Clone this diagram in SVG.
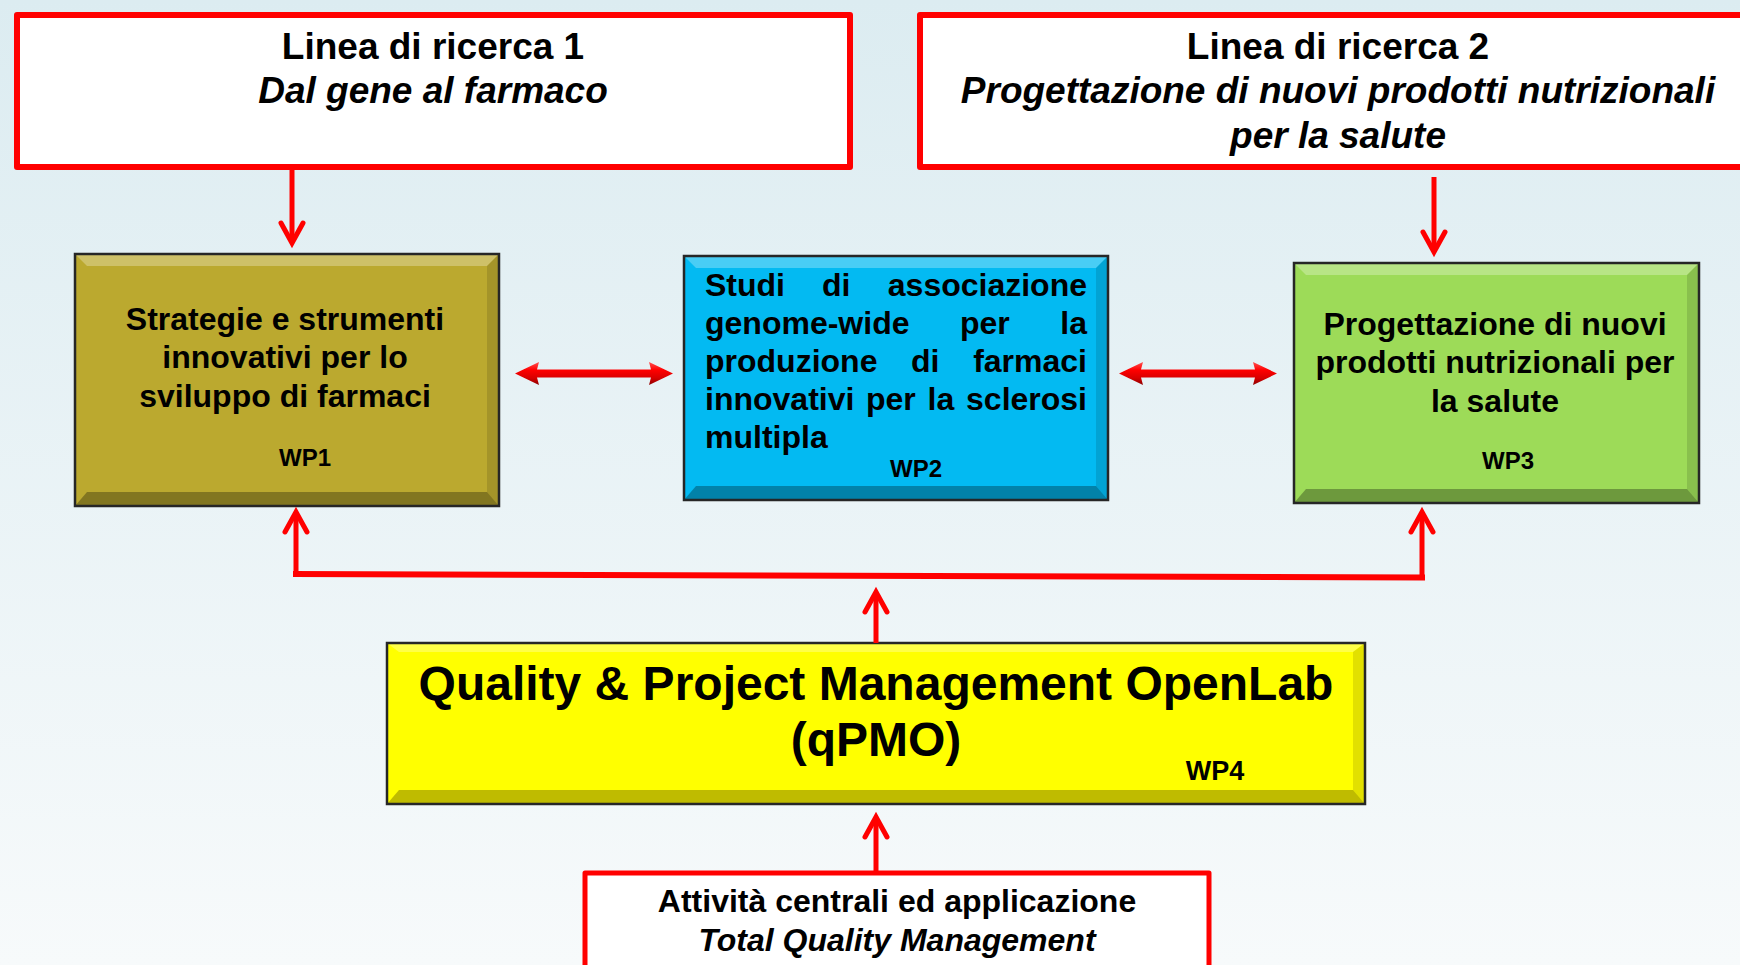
<svg xmlns="http://www.w3.org/2000/svg" width="1740" height="965" viewBox="0 0 1740 965">
<defs>
<linearGradient id="bg" x1="0" y1="0" x2="0" y2="1">
<stop offset="0" stop-color="#dcecf1"/>
<stop offset="1" stop-color="#f7fafb"/>
</linearGradient>
<linearGradient id="dbl" x1="0" y1="0" x2="0" y2="1">
<stop offset="0" stop-color="#ff5050"/>
<stop offset="0.35" stop-color="#ff0000"/>
<stop offset="0.7" stop-color="#d80000"/>
<stop offset="1" stop-color="#8a0000"/>
</linearGradient>
<marker id="arr" markerUnits="userSpaceOnUse" viewBox="-26 -16 36 32" markerWidth="36" markerHeight="32" refX="0" refY="0" orient="auto" overflow="visible">
<path d="M-20,-11 L0,0 L-20,11" fill="none" stroke="#ff0000" stroke-width="5" stroke-linejoin="miter" stroke-linecap="round"/>
</marker>
<path id="dblarrow" d="M0,0 L24,-11.5 L22,-4 L136,-4 L134,-11.5 L158,0 L134,11.5 L136,4 L22,4 L24,11.5 Z"/>
</defs>
<style>
.t{font-family:"Liberation Sans",Arial,sans-serif;font-weight:bold;fill:#000}
.i{font-style:italic}
.c{text-anchor:middle}
.e{text-anchor:end}
.redbox{fill:#ffffff;stroke:#ff0000;stroke-width:6;stroke-linejoin:round}
.frame{fill:none;stroke:#262626;stroke-width:2.5}
.conn{stroke:#ff0000;fill:none;stroke-width:5}
.hi{fill:#ffffff;opacity:0.28}
.lo{fill:#000000;opacity:0.3}
.sd{fill:#000000;opacity:0.12}
</style>
<rect x="0" y="0" width="1740" height="965" fill="url(#bg)"/>

<g id="linea1">
<rect class="redbox" x="17" y="15" width="833" height="152"/>
<text class="t c" x="433" y="59" font-size="37">Linea di ricerca 1</text>
<text class="t c i" x="433" y="103" font-size="37">Dal gene al farmaco</text>
</g>

<g id="linea2">
<rect class="redbox" x="920" y="15" width="840" height="152"/>
<text class="t c" x="1338" y="59" font-size="37">Linea di ricerca 2</text>
<text class="t c i" x="1338" y="103" font-size="37">Progettazione di nuovi prodotti nutrizionali</text>
<text class="t c i" x="1338" y="148" font-size="37">per la salute</text>
</g>

<g id="wp1">
<rect x="75" y="254" width="424" height="252" fill="#bba92f"/>
<polygon class="hi" points="75,254 499,254 487,266 87,266"/>
<polygon class="lo" points="75,506 499,506 487,492 87,492"/>
<polygon class="sd" points="499,254 499,506 487,492 487,266"/>
<rect class="frame" x="75" y="254" width="424" height="252"/>
<text class="t c" x="285" y="330" font-size="32">Strategie e strumenti</text>
<text class="t c" x="285" y="368" font-size="32">innovativi per lo</text>
<text class="t c" x="285" y="407" font-size="32">sviluppo di farmaci</text>
<text class="t c" x="305" y="466" font-size="24">WP1</text>
</g>

<g id="wp2">
<rect x="684" y="256" width="424" height="244" fill="#03baf2"/>
<polygon class="hi" points="684,256 1108,256 1096,268 696,268"/>
<polygon class="lo" points="684,500 1108,500 1096,486 696,486"/>
<polygon class="sd" points="1108,256 1108,500 1096,486 1096,268"/>
<rect class="frame" x="684" y="256" width="424" height="244"/>
<text class="t" x="705" y="296" font-size="32">Studi</text>
<text class="t" x="822" y="296" font-size="32">di</text>
<text class="t e" x="1087" y="296" font-size="32">associazione</text>
<text class="t" x="705" y="334" font-size="32">genome-wide</text>
<text class="t" x="960" y="334" font-size="32">per</text>
<text class="t e" x="1087" y="334" font-size="32">la</text>
<text class="t" x="705" y="372" font-size="32">produzione</text>
<text class="t" x="911" y="372" font-size="32">di</text>
<text class="t e" x="1087" y="372" font-size="32">farmaci</text>
<text class="t" x="705" y="410" font-size="32">innovativi</text>
<text class="t" x="866" y="410" font-size="32">per</text>
<text class="t" x="927.5" y="410" font-size="32">la</text>
<text class="t e" x="1087" y="410" font-size="32">sclerosi</text>
<text class="t" x="705" y="448" font-size="32">multipla</text>
<text class="t c" x="916" y="477" font-size="24">WP2</text>
</g>

<g id="wp3">
<rect x="1294" y="263" width="405" height="240" fill="#9ddb58"/>
<polygon class="hi" points="1294,263 1699,263 1687,275 1306,275"/>
<polygon class="lo" points="1294,503 1699,503 1687,489 1306,489"/>
<polygon class="sd" points="1699,263 1699,503 1687,489 1687,275"/>
<rect class="frame" x="1294" y="263" width="405" height="240"/>
<text class="t c" x="1495" y="335" font-size="32">Progettazione di nuovi</text>
<text class="t c" x="1495" y="373" font-size="32">prodotti nutrizionali per</text>
<text class="t c" x="1495" y="412" font-size="32">la salute</text>
<text class="t c" x="1508" y="469" font-size="24">WP3</text>
</g>

<g id="wp4">
<rect x="387" y="643" width="978" height="161" fill="#ffff00"/>
<polygon class="hi" points="387,643 1365,643 1353,652 399,652"/>
<polygon points="387,804 1365,804 1353,790 399,790" fill="#8a8400" opacity="0.55"/>
<polygon points="1365,643 1365,804 1353,790 1353,652" fill="#8a8400" opacity="0.25"/>
<rect class="frame" x="387" y="643" width="978" height="161"/>
<text class="t c" x="876" y="700" font-size="48">Quality &amp; Project Management OpenLab</text>
<text class="t c" x="876" y="756" font-size="48">(qPMO)</text>
<text class="t c" x="1215" y="780" font-size="27">WP4</text>
</g>

<g id="tqm">
<rect x="585" y="873" width="624" height="110" fill="#ffffff" stroke="#ff0000" stroke-width="5" stroke-linejoin="round"/>
<text class="t c" x="897" y="912" font-size="32">Attività centrali ed applicazione</text>
<text class="t c i" x="897" y="951" font-size="32">Total Quality Management</text>
</g>

<g id="connectors">
<line class="conn" x1="292" y1="167" x2="292" y2="243" marker-end="url(#arr)"/>
<line class="conn" x1="1434" y1="177" x2="1434" y2="252" marker-end="url(#arr)"/>
<use href="#dblarrow" x="515" y="373.5" fill="url(#dbl)"/>
<use href="#dblarrow" x="1119" y="373.5" fill="url(#dbl)"/>
<line x1="293" y1="574" x2="1425" y2="577.5" stroke="#ff0000" stroke-width="6"/>
<line class="conn" x1="296" y1="576" x2="296" y2="512" stroke-width="4" marker-end="url(#arr)"/>
<line class="conn" x1="1422" y1="578" x2="1422" y2="512" stroke-width="4" marker-end="url(#arr)"/>
<line class="conn" x1="876" y1="643" x2="876" y2="592" marker-end="url(#arr)"/>
<line class="conn" x1="876" y1="871" x2="876" y2="817" marker-end="url(#arr)"/>
</g>
</svg>
